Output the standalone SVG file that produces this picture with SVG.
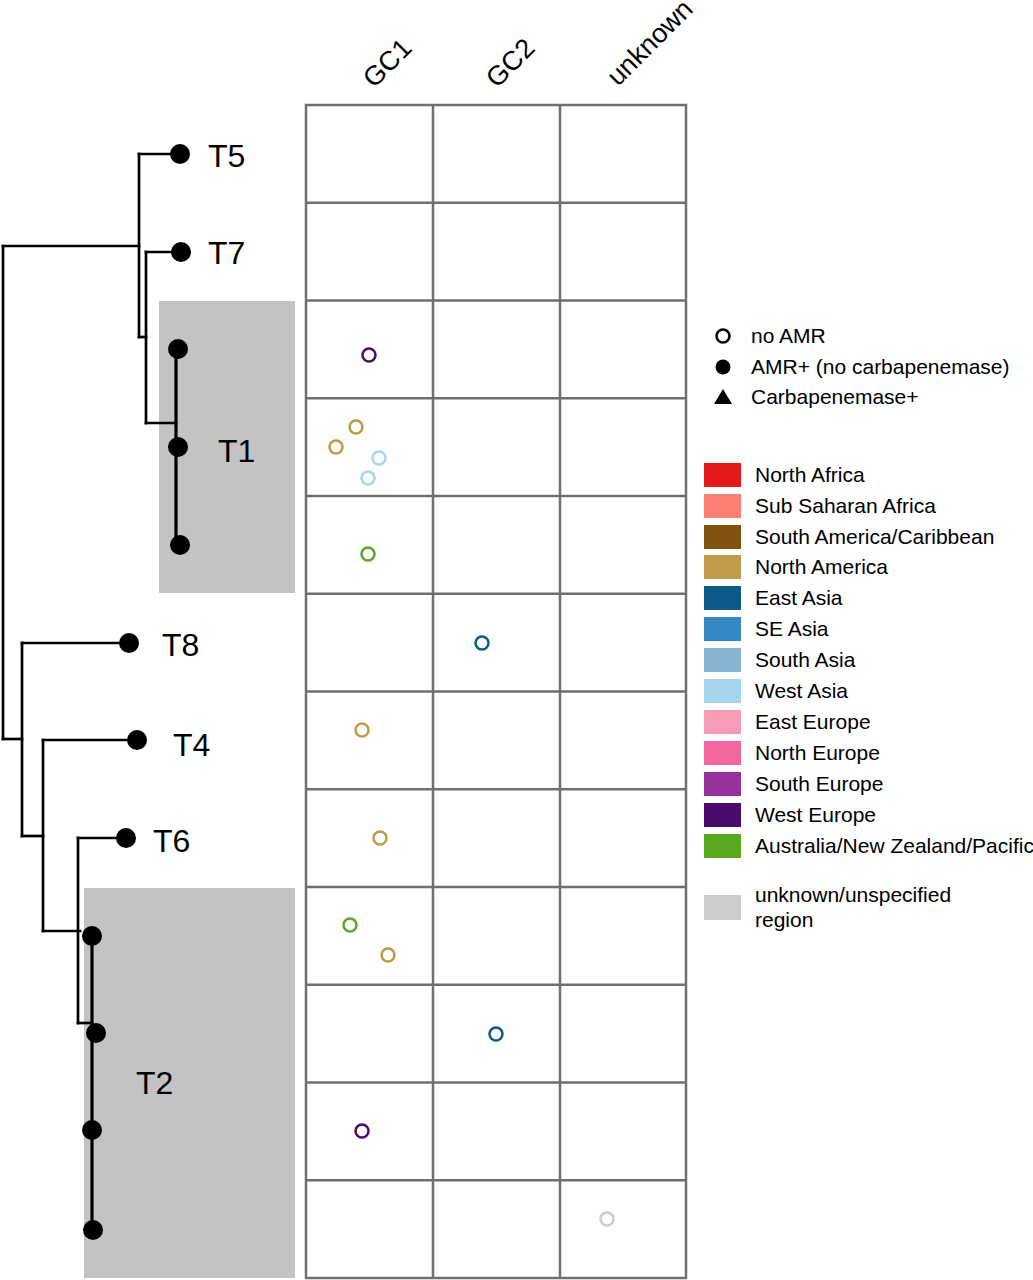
<svg xmlns="http://www.w3.org/2000/svg" width="1033" height="1280" viewBox="0 0 1033 1280">
<style>
.br{fill:none;stroke:#000;stroke-width:2.7;stroke-linecap:square}
.tip{fill:#000}
.lab{font-family:"Liberation Sans",Arial,sans-serif;font-size:32px;fill:#000}
.hdr{font-family:"Liberation Sans",Arial,sans-serif;font-size:27px;fill:#000}
.leg{font-family:"Liberation Sans",Arial,sans-serif;font-size:21px;fill:#000}
.grid{fill:none;stroke:#707070;stroke-width:2.5}
.pt{fill:none;stroke-width:2.5}
.clade{fill:#C3C3C3}
</style>
<rect width="1033" height="1280" fill="#fff"/>
<g id="clade-shading">
<rect class="clade" x="159" y="301" width="136" height="292"/>
<rect class="clade" x="84" y="888" width="211" height="390"/>
</g>
<g id="connectors">
<path class="br" d="M3,246 V739"/>
<path class="br" d="M3,246 H139"/>
<path class="br" d="M139,154 V337"/>
<path class="br" d="M139,154 H180"/>
<path class="br" d="M139,337 H146"/>
<path class="br" d="M146,252 V423"/>
<path class="br" d="M146,252 H181"/>
<path class="br" d="M146,423 H176"/>
<path class="br" d="M176,349 V545" style="stroke-width:3.2"/>
<path class="br" d="M3,739 H22"/>
<path class="br" d="M22,643 V836"/>
<path class="br" d="M22,643 H129"/>
<path class="br" d="M22,836 H43"/>
<path class="br" d="M43,740 V931"/>
<path class="br" d="M43,740 H137"/>
<path class="br" d="M43,931 H80"/>
<path class="br" d="M78,838 V1023"/>
<path class="br" d="M78,838 H126"/>
<path class="br" d="M78,1023 H92"/>
<path class="br" d="M92,936 V1230" style="stroke-width:3.2"/>
</g>
<g id="node-T5"><circle class="tip" cx="180" cy="154" r="10"/><text class="lab" x="208" y="167">T5</text></g>
<g id="node-T7"><circle class="tip" cx="181" cy="252" r="10"/><text class="lab" x="208" y="264">T7</text></g>
<g id="node-T1">
<circle class="tip" cx="178" cy="349" r="10"/>
<circle class="tip" cx="178" cy="447" r="10"/>
<circle class="tip" cx="180" cy="545" r="10"/>
<text class="lab" x="218" y="462">T1</text>
</g>
<g id="node-T8"><circle class="tip" cx="129" cy="643" r="10"/><text class="lab" x="162" y="656">T8</text></g>
<g id="node-T4"><circle class="tip" cx="137" cy="740" r="10"/><text class="lab" x="173" y="756">T4</text></g>
<g id="node-T6"><circle class="tip" cx="126" cy="838" r="10"/><text class="lab" x="153" y="852">T6</text></g>
<g id="node-T2">
<circle class="tip" cx="92" cy="936" r="10"/>
<circle class="tip" cx="96" cy="1033" r="10"/>
<circle class="tip" cx="92" cy="1130" r="10"/>
<circle class="tip" cx="93" cy="1230" r="10"/>
<text class="lab" x="136" y="1094">T2</text>
</g>
<g id="headers">
<text class="hdr" transform="translate(374,89) rotate(-45)">GC1</text>
<text class="hdr" transform="translate(497,89) rotate(-45)">GC2</text>
<text class="hdr" transform="translate(618,87) rotate(-45)">unknown</text>
</g>
<g id="grid">
<rect class="grid" x="306" y="105" width="380" height="1173"/>
<path class="grid" d="M433,105 V1278 M560,105 V1278 M306,202.75 H686 M306,300.5 H686 M306,398.25 H686 M306,496 H686 M306,593.75 H686 M306,691.5 H686 M306,789.25 H686 M306,887 H686 M306,984.75 H686 M306,1082.5 H686 M306,1180.25 H686"/>
</g>
<g id="points">
<circle class="pt" cx="369" cy="355" r="6.5" stroke="#4A0A6E"/>
<circle class="pt" cx="356" cy="427" r="6.5" stroke="#BF9B4A"/>
<circle class="pt" cx="336" cy="447" r="6.5" stroke="#BF9B4A"/>
<circle class="pt" cx="379" cy="458" r="6.5" stroke="#A6D5EE"/>
<circle class="pt" cx="368" cy="478" r="6.5" stroke="#A6D5EE"/>
<circle class="pt" cx="368" cy="554" r="6.5" stroke="#5AA820"/>
<circle class="pt" cx="482" cy="643" r="6.5" stroke="#0C5A8C"/>
<circle class="pt" cx="362" cy="730" r="6.5" stroke="#BF9B4A"/>
<circle class="pt" cx="380" cy="838" r="6.5" stroke="#BF9B4A"/>
<circle class="pt" cx="350" cy="925" r="6.5" stroke="#5AA820"/>
<circle class="pt" cx="388" cy="955" r="6.5" stroke="#BF9B4A"/>
<circle class="pt" cx="496" cy="1034" r="6.5" stroke="#0C5A8C"/>
<circle class="pt" cx="362" cy="1131" r="6.5" stroke="#4A0A6E"/>
<circle class="pt" cx="607" cy="1219" r="6.5" stroke="#CCCCCC"/>
</g>
<g id="legend-amr">
<circle cx="723" cy="336" r="6.5" fill="none" stroke="#000" stroke-width="2.5"/>
<text class="leg" x="751" y="343">no AMR</text>
<circle cx="723" cy="367" r="7.5" fill="#000"/>
<text class="leg" x="751" y="374">AMR+ (no carbapenemase)</text>
<polygon points="723,389 732,404 714,404" fill="#000"/>
<text class="leg" x="751" y="404">Carbapenemase+</text>
</g>
<g id="legend-region">
<rect x="704" y="463" width="37" height="24" fill="#E31A1C"/><text class="leg" x="755" y="482">North Africa</text>
<rect x="704" y="494" width="37" height="24" fill="#FB8072"/><text class="leg" x="755" y="513">Sub Saharan Africa</text>
<rect x="704" y="525" width="37" height="24" fill="#7F5410"/><text class="leg" x="755" y="544">South America/Caribbean</text>
<rect x="704" y="555" width="37" height="24" fill="#BF9B4A"/><text class="leg" x="755" y="574">North America</text>
<rect x="704" y="586" width="37" height="24" fill="#0C5A8C"/><text class="leg" x="755" y="605">East Asia</text>
<rect x="704" y="617" width="37" height="24" fill="#3689C0"/><text class="leg" x="755" y="636">SE Asia</text>
<rect x="704" y="648" width="37" height="24" fill="#86B3D3"/><text class="leg" x="755" y="667">South Asia</text>
<rect x="704" y="679" width="37" height="24" fill="#A6D5EE"/><text class="leg" x="755" y="698">West Asia</text>
<rect x="704" y="710" width="37" height="24" fill="#F59BB5"/><text class="leg" x="755" y="729">East Europe</text>
<rect x="704" y="741" width="37" height="24" fill="#F367A0"/><text class="leg" x="755" y="760">North Europe</text>
<rect x="704" y="772" width="37" height="24" fill="#98319E"/><text class="leg" x="755" y="791">South Europe</text>
<rect x="704" y="803" width="37" height="24" fill="#4A0A6E"/><text class="leg" x="755" y="822">West Europe</text>
<rect x="704" y="834" width="37" height="24" fill="#5AA820"/><text class="leg" x="755" y="853">Australia/New Zealand/Pacific</text>
<rect x="704" y="895" width="37" height="25" fill="#CCCCCC"/>
<text class="leg" x="755" y="902">unknown/unspecified</text>
<text class="leg" x="755" y="927">region</text>
</g>
</svg>
